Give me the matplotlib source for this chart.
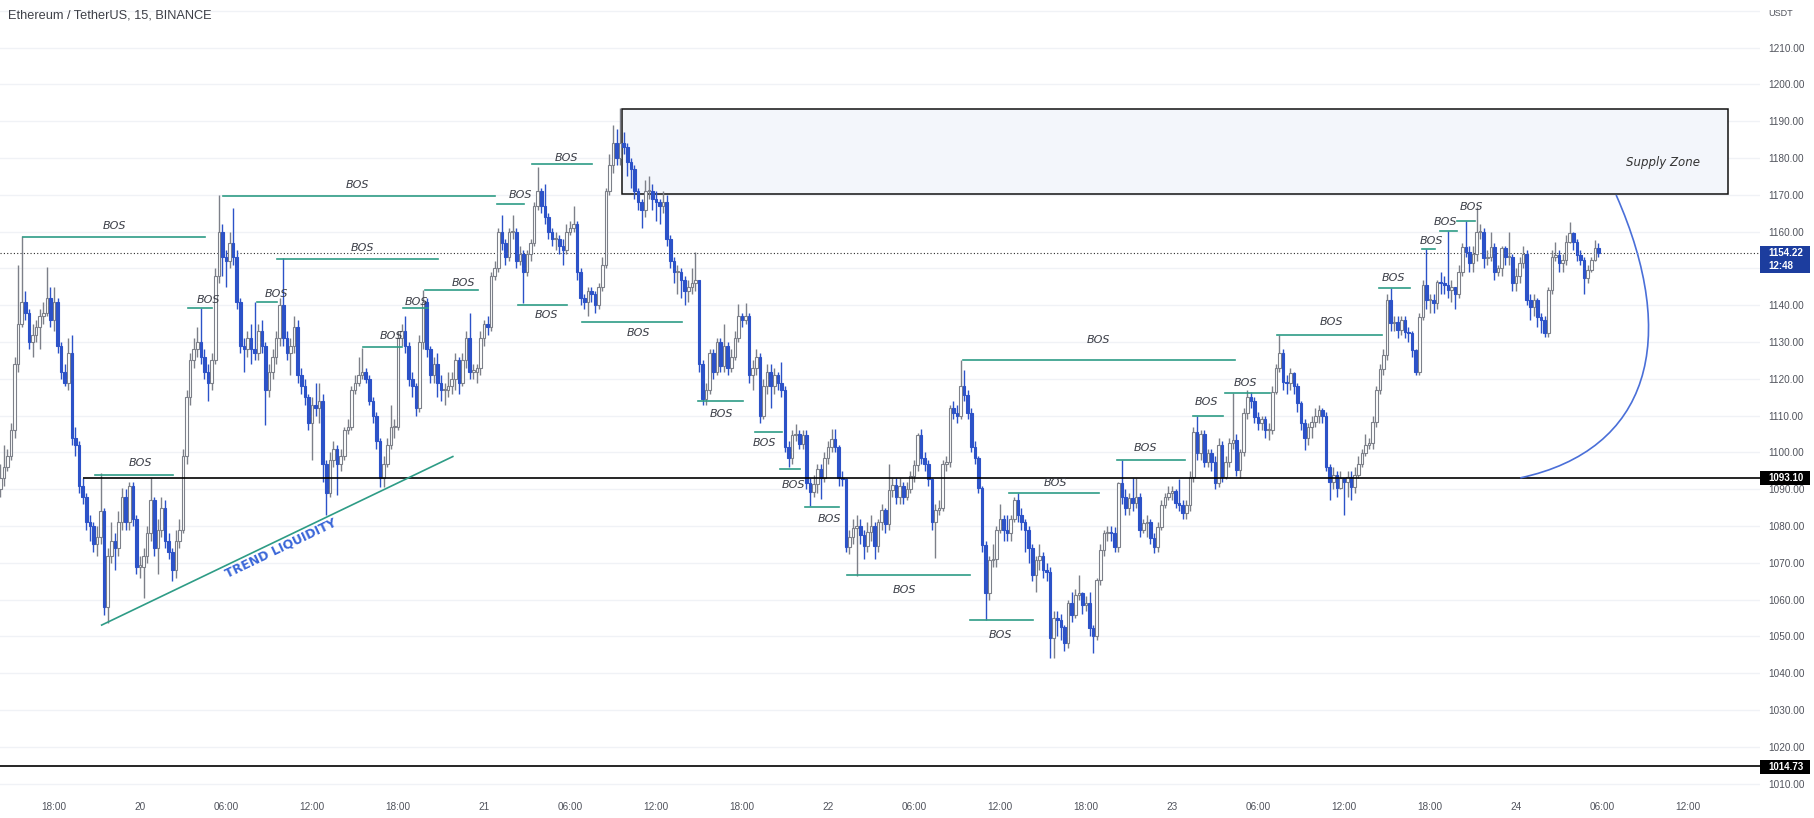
import numpy as np
import matplotlib
matplotlib.use("Agg")
import matplotlib.pyplot as plt
from matplotlib.patches import Rectangle, PathPatch
from matplotlib.path import Path

plt.rcParams['font.family'] = ['Liberation Sans', 'DejaVu Sans']

# ---- candle data, 15 min bars, index 0 = day 19 18:00 ----
first_index = -15
first_open = 1090.0
closes = [
    1093, 1096, 1099, 1106, 1124, 1135, 1141, 1138, 1130, 1132,   # -15
    1134, 1137, 1138, 1142, 1136, 1141, 1129, 1122, 1119, 1127,   # -5
    1104, 1102, 1091, 1088, 1081, 1080, 1075, 1077, 1084, 1058,   # 5
    1072, 1076, 1074, 1081, 1088, 1081, 1091, 1082, 1069, 1069,   # 15
    1072, 1078, 1087, 1074, 1079, 1085, 1076, 1073, 1068, 1076,   # 25
    1079, 1099, 1115, 1125, 1128, 1130, 1126, 1122, 1119, 1125,   # 35
    1148, 1160, 1153, 1152, 1157, 1153, 1141, 1129, 1128, 1131,   # 45
    1128, 1127, 1133, 1129, 1117, 1122, 1126, 1131, 1140, 1131,   # 55
    1127, 1129, 1134, 1121, 1118, 1115, 1108, 1113, 1112, 1114,   # 65
    1097, 1089, 1098, 1101, 1097, 1099, 1106, 1107, 1117, 1119,   # 75
    1121, 1122, 1120, 1114, 1110, 1103, 1093, 1097, 1102, 1107,   # 85
    1107, 1131, 1133, 1129, 1120, 1118, 1112, 1130, 1141, 1128,   # 95
    1121, 1124, 1119, 1117, 1117, 1118, 1120, 1125, 1119, 1125,   # 105
    1131, 1122, 1122, 1123, 1131, 1135, 1134, 1148, 1150, 1160,   # 115
    1157, 1153, 1160, 1160, 1152, 1154, 1149, 1154, 1157, 1167,   # 125
    1171, 1167, 1164, 1160, 1158, 1158, 1156, 1155, 1160, 1161,   # 135
    1162, 1149, 1142, 1141, 1144, 1143, 1140, 1145, 1151, 1171,   # 145
    1178, 1184, 1180, 1184, 1183, 1179, 1177, 1171, 1168, 1166,   # 155
    1171, 1171, 1169, 1168, 1167, 1168, 1158, 1152, 1149, 1149,   # 165
    1147, 1144, 1145, 1146, 1147, 1124, 1114.5, 1117, 1127, 1122,   # 175
    1130, 1123.5, 1129, 1123, 1126, 1131, 1137, 1136, 1137, 1121,   # 185
    1123, 1126, 1110, 1118, 1122, 1118, 1121, 1119, 1117, 1101.5,   # 195
    1098.5, 1104.8, 1105, 1102.4, 1104.8, 1091.7, 1089.3, 1091.5, 1095.6, 1093,   # 205
    1098.5, 1101.4, 1103.8, 1101.5, 1093.2, 1092.7, 1074.2, 1077, 1079.5, 1080,   # 215
    1077.6, 1074.7, 1078.5, 1080, 1074.5, 1081, 1084.4, 1080.5, 1089.8, 1091.2,   # 225
    1087.8, 1091, 1088, 1090, 1093.5, 1096.5, 1104.8, 1098.5, 1097, 1092.7,   # 235
    1081, 1084.5, 1085, 1097, 1097.5, 1112, 1110.6, 1110, 1118, 1115.6,   # 245
    1110.6, 1101.6, 1098.4, 1090.3, 1074.9, 1061.7, 1070.8, 1071, 1079, 1082,   # 255
    1079, 1078, 1082, 1087, 1083, 1081, 1079, 1074, 1066.7, 1070.8,   # 265
    1072, 1068, 1067.6, 1049.5, 1055, 1054.5, 1052.6, 1048.2, 1059, 1055.8,   # 275
    1061.3, 1061.7, 1058.6, 1059, 1052.2, 1050, 1065.4, 1073.5, 1078, 1078.5,   # 285
    1078, 1074.4, 1091.6, 1088, 1084.8, 1087.5, 1086.2, 1088, 1079, 1080.8,   # 295
    1081, 1076.7, 1074.4, 1079.8, 1085.7, 1088, 1089, 1089.4, 1086.2, 1085.7,   # 305
    1083.5, 1085.7, 1093.4, 1105.6, 1099.8, 1105, 1097.5, 1099.8, 1097.5, 1091.6,   # 315
    1102, 1093.4, 1097.5, 1102.5, 1103.4, 1095.2, 1100, 1110.6, 1115.2, 1114,   # 325
    1109.7, 1108, 1109, 1106, 1106, 1116.5, 1122.9, 1127, 1119.2, 1118.8,   # 335
    1121.5, 1118, 1113.4, 1107.9, 1103.9, 1107, 1108.4, 1110, 1111.5, 1110,   # 345
    1096.1, 1092, 1094, 1090.3, 1093, 1092, 1093.4, 1090.5, 1094, 1097,   # 355
    1099.8, 1102, 1102.5, 1108.4, 1117, 1122.8, 1126.5, 1141.5, 1135.1, 1135.4,   # 365
    1133.3, 1136, 1132.8, 1132.4, 1127.8, 1122, 1136.9, 1145.5, 1141.5, 1141.5,   # 375
    1140.5, 1146.4, 1146, 1145.5, 1144.1, 1145, 1143.2, 1149, 1155.9, 1154.6,   # 385
    1151.4, 1154, 1160, 1160, 1152.8, 1153, 1155.9, 1149.1, 1150, 1155.5,   # 395
    1153, 1153.2, 1146, 1148, 1151.4, 1154, 1141.5, 1139.6, 1141.5, 1136.9,   # 405
    1136, 1132.4, 1144.1, 1153.2, 1153.7, 1151.4, 1152.3, 1157.3, 1159.6, 1157.3,   # 415
    1153.7, 1152.3, 1147.3, 1149.6, 1152.3, 1155.5, 1154.22,   # 425
]
highs = [
    1097, 1102, 1101, 1108, 1126, 1151, 1158.7, 1144, 1139, 1135,
    1136, 1139, 1141, 1150.5, 1145, 1145, 1142, 1130, 1124, 1131,
    1132, 1107, 1103, 1093, 1089, 1083, 1081, 1080, 1094.3, 1085,
    1074, 1081, 1078, 1084, 1090.3, 1090, 1092, 1092, 1083, 1072,
    1074, 1080, 1093, 1088, 1082, 1088, 1087, 1078, 1074, 1079,
    1082, 1101, 1117, 1127, 1131, 1134, 1139.2, 1128, 1124, 1127,
    1150, 1170, 1162, 1155, 1160, 1166.4, 1155, 1142, 1131, 1133,
    1135, 1141, 1135, 1136, 1130, 1124, 1128, 1133, 1142, 1152.8,
    1133, 1131, 1137, 1136, 1123, 1120, 1116, 1115, 1119, 1119,
    1116, 1098, 1100, 1103, 1102, 1101, 1107, 1109, 1118, 1121,
    1126, 1128.3, 1123, 1121, 1115, 1111, 1104, 1099, 1104, 1113,
    1109, 1133, 1135, 1137, 1130, 1122, 1119, 1132, 1144.2, 1142,
    1129, 1126, 1127, 1121, 1119, 1122, 1122, 1127, 1126, 1127,
    1133, 1137.8, 1124, 1124, 1133, 1136, 1137, 1149, 1152, 1161,
    1164.5, 1158, 1161, 1164.5, 1161, 1156, 1155, 1155, 1158, 1168,
    1177.7, 1172, 1173, 1165, 1161, 1160, 1159, 1158, 1162, 1163,
    1167, 1163, 1150, 1143, 1145, 1145, 1144, 1146, 1153, 1172,
    1181, 1189, 1188, 1193.5, 1187, 1184, 1180, 1178, 1172, 1169,
    1174, 1175, 1173, 1171, 1169, 1171, 1170, 1159, 1153, 1151,
    1150, 1148, 1147, 1150, 1154.6, 1147, 1125, 1119, 1128, 1128,
    1131, 1131, 1135, 1130, 1128, 1133, 1140.3, 1138, 1140.5, 1138,
    1125, 1128, 1127, 1120, 1124, 1124, 1123, 1122, 1124.5, 1118,
    1103, 1106, 1107.7, 1106, 1106, 1106, 1093, 1094, 1097, 1097,
    1100, 1103, 1106.5, 1106.5, 1102, 1095, 1093, 1079, 1082, 1083,
    1082, 1079, 1081, 1083, 1081, 1082, 1086, 1085, 1097, 1093,
    1093, 1093, 1092, 1092, 1095, 1098, 1105.3, 1106.3, 1100, 1098,
    1093, 1086, 1087, 1098, 1099, 1113, 1114, 1113, 1125, 1122.4,
    1117, 1112, 1103, 1099, 1091, 1076, 1072, 1075, 1080, 1086,
    1083, 1083, 1083, 1088, 1089, 1085, 1082, 1080, 1075, 1072,
    1075, 1073, 1070, 1069, 1057, 1057, 1056, 1053, 1060, 1062,
    1063, 1066.7, 1062, 1061, 1062, 1053, 1066, 1075, 1079, 1080,
    1080, 1079.8, 1092, 1098, 1090, 1089, 1093, 1093, 1089, 1082,
    1083, 1082, 1078, 1081, 1087, 1089, 1091, 1091, 1090, 1092.7,
    1087, 1087, 1095, 1107, 1109.9, 1106, 1106, 1101, 1101, 1099,
    1104, 1103, 1099, 1104, 1116.2, 1105, 1101, 1112, 1117, 1116.5,
    1115, 1111, 1110, 1110, 1108, 1118, 1124, 1131.9, 1128, 1121,
    1123, 1122, 1119, 1114, 1109, 1108, 1110, 1112, 1113, 1112,
    1111, 1097, 1096, 1095, 1095, 1093, 1095, 1095, 1096, 1099,
    1101, 1105, 1104, 1110, 1118, 1124, 1128, 1143, 1144.6, 1137,
    1137, 1137, 1137, 1134, 1133, 1128, 1138, 1147, 1155.2, 1143,
    1143, 1147, 1149, 1148, 1160.2, 1147, 1145, 1151, 1157, 1162.9,
    1156, 1156, 1166.8, 1162, 1161, 1155, 1160, 1157, 1151, 1156,
    1156, 1160, 1154, 1150, 1153, 1156, 1155, 1143, 1143, 1142,
    1138, 1137, 1145, 1155, 1157.3, 1155, 1154, 1159, 1162.7, 1160,
    1158, 1155, 1153, 1151, 1153, 1157.8, 1157,
]
lows = [
    1088, 1091, 1095, 1098, 1104, 1122, 1134, 1136, 1128, 1126,
    1130, 1128, 1135, 1137, 1134, 1133, 1127, 1120, 1118, 1117,
    1102, 1099, 1089, 1086, 1079, 1076, 1073, 1072, 1075, 1055.8,
    1053.6, 1070, 1068, 1072, 1079, 1079, 1079, 1080, 1067, 1066,
    1060.4, 1070, 1076, 1072, 1067, 1077, 1074, 1071, 1065, 1066,
    1074, 1078, 1097, 1113, 1123, 1126, 1124, 1120, 1114, 1117,
    1124, 1146, 1148, 1145, 1150, 1151, 1139, 1127, 1122, 1126,
    1124, 1125, 1125, 1127, 1107.5, 1115, 1120, 1124, 1129, 1129,
    1125, 1121, 1127, 1119, 1116, 1113, 1106, 1098, 1110, 1108,
    1092, 1083, 1088, 1096, 1088.5, 1095, 1098, 1105, 1106, 1116,
    1118, 1120, 1119, 1113, 1108, 1101, 1090.7, 1090.5, 1096, 1101,
    1104, 1106, 1129, 1127, 1118, 1115, 1110, 1111, 1128, 1126,
    1119, 1119, 1115, 1114, 1113, 1115, 1116, 1117, 1116, 1118,
    1123, 1120, 1120, 1119, 1121, 1129, 1132, 1133, 1147, 1149,
    1155, 1151, 1152, 1158, 1150, 1151, 1140.5, 1148, 1152, 1156,
    1166, 1165, 1162, 1158, 1156, 1155, 1154, 1151, 1154, 1159,
    1160, 1147, 1140, 1139, 1137, 1141, 1138, 1139, 1144, 1150,
    1170, 1176, 1178, 1178, 1181, 1175, 1172, 1169, 1166, 1161,
    1164, 1169, 1166, 1163, 1162, 1165, 1156, 1150, 1146, 1143,
    1142, 1140, 1141, 1143, 1144, 1122, 1113, 1113, 1116, 1120,
    1121, 1122, 1122, 1121, 1122, 1125, 1130, 1134, 1135, 1119,
    1117, 1121, 1108, 1109, 1116, 1112, 1116, 1117, 1115, 1100,
    1096, 1097, 1103, 1101, 1101, 1090, 1085.4, 1088, 1089, 1087.3,
    1092, 1097, 1100, 1100, 1091, 1091, 1073, 1072.3, 1075, 1066.5,
    1075, 1071, 1073, 1076, 1071, 1073, 1079, 1078, 1079, 1088,
    1086, 1086, 1086, 1087, 1089, 1092, 1095, 1097, 1095, 1091,
    1079, 1071.3, 1083, 1084, 1095, 1096, 1109, 1108, 1109, 1114,
    1109, 1100, 1097, 1089, 1073, 1054.5, 1060, 1069, 1069, 1078,
    1076, 1076, 1076, 1081, 1081, 1079, 1073, 1070, 1065, 1062,
    1068, 1066, 1065, 1044.1, 1044.1, 1050, 1049, 1046, 1047, 1054,
    1055, 1060, 1056, 1057, 1050, 1045.5, 1049, 1064, 1072, 1076,
    1076, 1073, 1073, 1086, 1083, 1083, 1084, 1085, 1077, 1078,
    1077, 1075, 1072.6, 1073, 1079, 1085, 1087, 1087, 1085, 1084,
    1082, 1082, 1084, 1092, 1098, 1098, 1096, 1096, 1095, 1090,
    1090.5, 1092, 1092.7, 1096, 1101, 1093.5, 1093, 1099, 1109, 1112,
    1108, 1106, 1106, 1104, 1103.5, 1105, 1116, 1122, 1117, 1116,
    1117, 1116, 1111, 1106, 1100.7, 1102, 1104, 1107, 1108, 1108,
    1095, 1087.1, 1090, 1088, 1090, 1083, 1088, 1087, 1089, 1093,
    1096, 1099, 1101, 1101, 1107, 1116, 1121, 1125, 1133, 1133,
    1131, 1132, 1131, 1130, 1126, 1121, 1121, 1136, 1139, 1138,
    1138, 1139, 1143, 1143, 1142, 1141, 1139, 1142, 1148, 1153,
    1149, 1149, 1152, 1158, 1150, 1151, 1152, 1147, 1148, 1148,
    1151, 1151, 1144, 1144, 1146, 1150, 1140, 1136, 1137, 1134,
    1132.4, 1131.5, 1131.5, 1143, 1152, 1149, 1149, 1151, 1157, 1155,
    1152, 1151, 1143.2, 1146, 1149, 1152, 1153,
]

# x axis labels every 6 hours (24 bars)
time_labels = ["18:00", "20", "06:00", "12:00", "18:00", "21", "06:00", "12:00",
               "18:00", "22", "06:00", "12:00", "18:00", "23", "06:00", "12:00",
               "18:00", "24", "06:00", "12:00"]
price_ticks = list(range(1010, 1211, 10))
last_price = 1154.22
level_a = 1093.10
level_b = 1014.73

# BOS drawings (bar index / price)
bos_start = [-8.7, 47.3, 62.2, 37.4, 56.7, 11.4, 86.3, 97.5, 103.5, 123.6, 133.3, 129.6,
             147.3, 179.8, 195.6, 202.6, 209.6, 221.4, 255.7, 253.6, 266.6, 296.6, 317.8,
             326.8, 341.4, 369.9, 381.7, 386.8, 391.5]
bos_end = [42.1, 123.1, 107.2, 44.1, 62.2, 33.1, 97.0, 104.5, 118.4, 131.2, 150.1, 143.3,
           175.2, 192.4, 203.1, 208.2, 219.2, 255.5, 273.3, 329.6, 291.5, 315.7, 326.3,
           339.4, 370.6, 378.4, 385.4, 391.5, 396.6]
bos_level = [1158.6, 1169.7, 1152.7, 1139.2, 1141.0, 1093.9, 1128.7, 1139.3, 1144.2, 1167.4,
             1178.4, 1140.1, 1135.5, 1113.9, 1105.6, 1095.5, 1085.2, 1066.6, 1054.5, 1125.0,
             1088.9, 1097.9, 1109.9, 1116.2, 1131.9, 1144.6, 1155.2, 1160.2, 1162.9]
bos_text_x = [17.0, 84.8, 86.2, 43.0, 62.0, 24.0, 94.1, 101.2, 114.2, 130.1, 143.1, 137.3,
              163.0, 186.2, 198.4, 206.3, 216.3, 237.2, 264.2, 291.5, 279.4, 304.5, 321.5,
              332.4, 356.6, 373.8, 384.5, 388.4, 395.7]
bos_text_y = [1161.5, 1172.7, 1155.6, 1141.4, 1143.1, 1097.1, 1131.7, 1141.0, 1146.1, 1170.1,
              1179.9, 1137.4, 1132.4, 1110.5, 1102.6, 1091.3, 1081.8, 1062.6, 1050.4, 1130.6,
              1091.8, 1101.1, 1113.6, 1118.8, 1135.5, 1147.3, 1157.5, 1162.7, 1166.6]

W, H = 1814, 818
fig = plt.figure(figsize=(W / 100, H / 100), dpi=100)
ax = fig.add_axes([0, 26 / H, 1760 / W, 792 / H])
ax.set_xlim(-15.07, 476.1)
ax.set_ylim(1007.74, 1222.96)

closes = np.array(closes, dtype=float)
opens = np.concatenate([[first_open], closes[:-1]])
highs = np.maximum(np.array(highs, dtype=float), np.maximum(opens, closes))
lows = np.minimum(np.array(lows, dtype=float), np.minimum(opens, closes))
x = np.arange(len(closes)) + first_index

up = closes >= opens
up_col = '#7d8089'
dn_col = '#2c52c8'

# grid
for v in range(1010, 1221, 10):
    ax.axhline(v, color='#f0f2f6', lw=1.0, zorder=0)

# supply zone
ax.add_patch(Rectangle((158.4, 1170.2), 467.2 - 158.4, 1193.3 - 1170.2,
                       facecolor='#f3f6fb', edgecolor='#111111', lw=1.1, zorder=1))
ax.text(449, 1178.7, "Supply Zone", fontsize=8.5, style='italic', color='#333333',
        ha='center', va='center', family='DejaVu Sans', zorder=5)

# candles
ax.vlines(x[up], lows[up], highs[up], color=up_col, lw=1.0, zorder=3)
ax.vlines(x[~up], lows[~up], highs[~up], color=dn_col, lw=1.0, zorder=3)
body_h = np.maximum(np.abs(closes - opens), 0.3)
body_b = np.minimum(opens, closes)
ax.bar(x[up], body_h[up], bottom=body_b[up], width=0.72, facecolor='white',
       edgecolor=up_col, linewidth=0.8, zorder=3.5)
ax.bar(x[~up], body_h[~up], bottom=body_b[~up], width=0.72, facecolor=dn_col,
       edgecolor=dn_col, linewidth=0.8, zorder=3.5)

# horizontal levels
ax.axhline(last_price, color='#2b2b2b', lw=0.8, ls=(0, (1, 2)), zorder=2)
ax.hlines(level_a, 8.1, 476.1, color='black', lw=1.2, zorder=4)
ax.axhline(level_b, color='black', lw=1.2, zorder=4)

# BOS lines + labels
bos_col = '#2e9c86'
for s, e, lv, tx, ty in zip(bos_start, bos_end, bos_level, bos_text_x, bos_text_y):
    ax.plot([s, e], [lv, lv], color=bos_col, lw=1.2, zorder=4)
    ax.text(tx, ty, "BOS", fontsize=8, style='italic', color='#3a3d46',
            ha='center', va='center', family='DejaVu Sans', zorder=5)

# trend liquidity line
ax.plot([13.3, 111.3], [1053.1, 1098.9], color=bos_col, lw=1.2, zorder=4)
ax.text(63.4, 1074.0, "TREND LIQUIDITY", fontsize=9, weight='bold', color='#3a66d8',
        rotation=25.6, ha='center', va='center', family='DejaVu Sans', zorder=5)

# curved line near the right
arc = Path([(435.95, 1169.97), (453.8, 1130.6), (445.4, 1100.7), (409.2, 1093.1)],
           [Path.MOVETO, Path.CURVE4, Path.CURVE4, Path.CURVE4])
ax.add_patch(PathPatch(arc, facecolor='none', edgecolor='#4a6fd8', lw=1.2, zorder=4))

# axes styling
for sp in ax.spines.values():
    sp.set_visible(False)
ax.yaxis.tick_right()
ax.set_yticks(price_ticks)
# 1150.00 sits under the last-price box, as in the reference
ax.set_yticklabels(["" if v == 1150 else f"{v:.2f}" for v in price_ticks])
ax.tick_params(axis='y', length=0, pad=6, labelsize=7.2, labelcolor='#50535c')
ax.set_xticks(np.arange(len(time_labels)) * 24)
ax.set_xticklabels(time_labels)
ax.tick_params(axis='x', length=0, pad=7, labelsize=7.2, labelcolor='#50535c')

# title and scale labels
fig.text(8 / W, 1 - 16 / H, "Ethereum / TetherUS, 15, BINANCE", fontsize=9.2,
         color='#3d3f47', va='center', ha='left')
fig.text(1768 / W, 1 - 13 / H, "USDT", fontsize=6.5, color='#50535c', va='center')


def price_box(y0, y1, color, lines):
    fig.add_artist(Rectangle((1760 / W, 1 - y1 / H), 50 / W, (y1 - y0) / H,
                             transform=fig.transFigure, facecolor=color,
                             edgecolor='none', zorder=5))
    n = len(lines)
    for i, t in enumerate(lines):
        yc = y0 + (y1 - y0) * (i + 0.5) / n
        fig.text(1768 / W, 1 - yc / H, t, fontsize=7, color='white', weight='bold',
                 va='center', ha='left', zorder=6)


price_box(246, 273, '#1c3d9e', [f"{last_price:.2f}", "12:48"])
price_box(471, 485, 'black', [f"{level_a:.2f}"])
price_box(760, 774, 'black', [f"{level_b:.2f}"])

fig.savefig("out.png", dpi=100, facecolor='white')
